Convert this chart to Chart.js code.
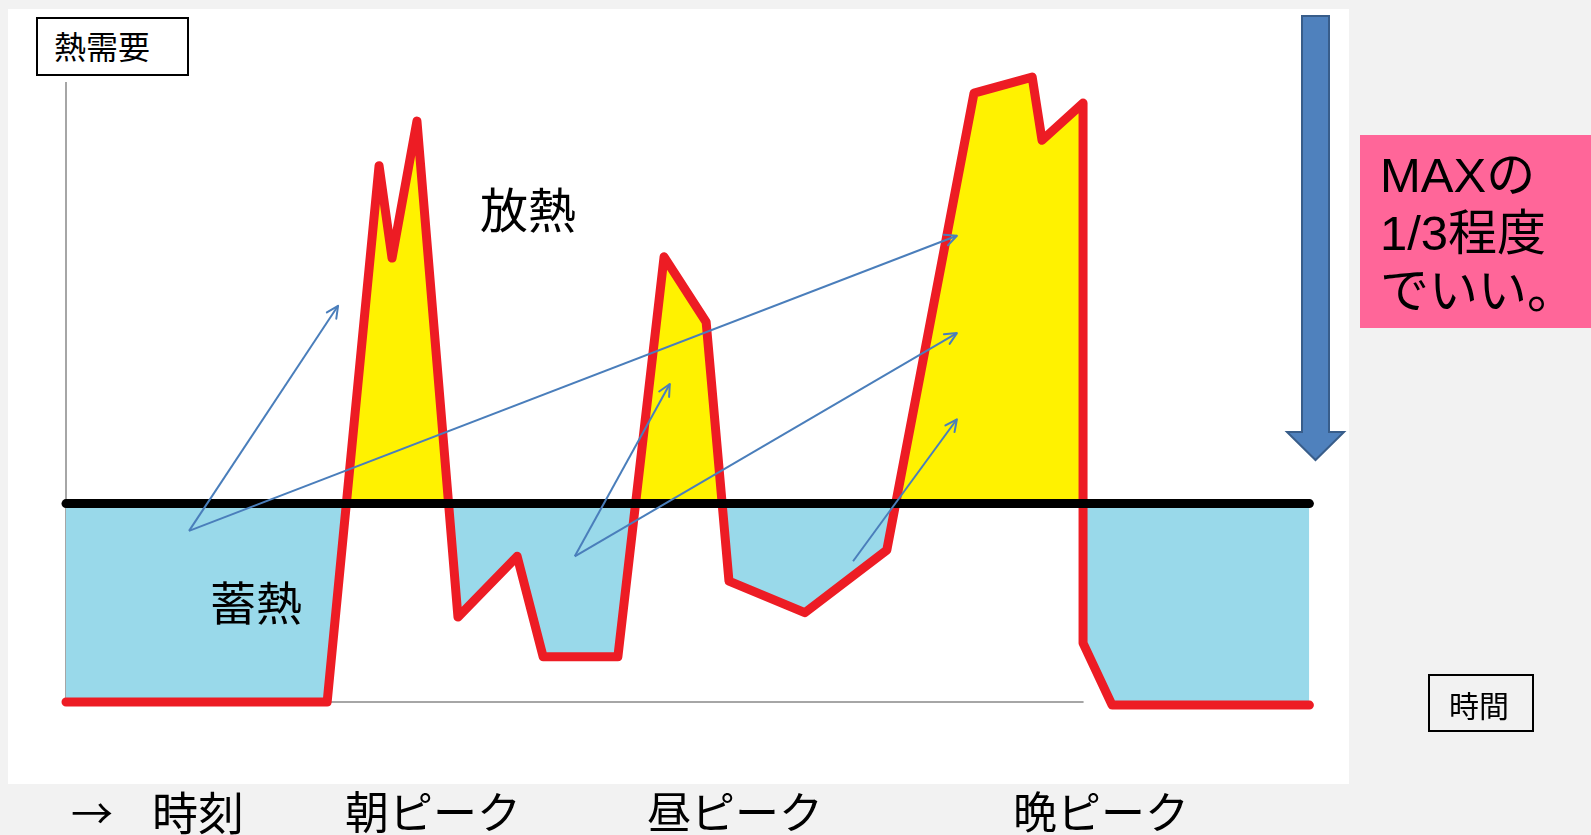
<!DOCTYPE html>
<html lang="ja">
<head>
<meta charset="utf-8">
<title>熱需要と蓄熱・放熱</title>
<script src="https://cdn.jsdelivr.net/npm/chart.js@4.4.0/dist/chart.umd.min.js"></script>
<style>
  html, body { margin: 0; padding: 0; }
  body {
    width: 1591px; height: 835px; position: relative; overflow: hidden;
    background: #f2f2f2;
    font-family: "Noto Sans CJK JP", "Noto Sans", sans-serif;
  }
  #sheet { position: absolute; left: 8px; top: 9px; width: 1341px; height: 775px; background: #fff; }
  #c { position: absolute; left: 0; top: 0; }
  .lbl { position: absolute; line-height: 1; white-space: nowrap; color: #000; }
  .box { position: absolute; box-sizing: border-box; border: 2px solid #000; }
  #demandBox { left: 36px; top: 17px; width: 153px; height: 59px; background: #fff; }
  #timeBox { left: 1428px; top: 674px; width: 106px; height: 58px; }
  #note {
    position: absolute; left: 1360px; top: 135px; width: 231px; height: 193px;
    box-sizing: border-box; padding: 11px 0 0 20px;
    background: #ff6699; color: #000;
    font-family: "Liberation Sans", Arial, "Noto Sans CJK JP", sans-serif;
    font-size: 49px; line-height: 58px;
  }
  #bigArrow { position: absolute; left: 0; top: 0; }
</style>
</head>
<body>
<div id="sheet"></div>
<canvas id="c" width="1591" height="835"></canvas>

<svg id="bigArrow" width="1591" height="835">
  <polygon points="1302,16 1329,16 1329,432 1344,432 1315.5,460 1287,432 1302,432"
           fill="#4f81bd" stroke="#385d8a" stroke-width="2" stroke-linejoin="miter"/>
</svg>

<div class="box" id="demandBox"></div>
<div class="lbl" style="left:54px; top:29px; font-size:32px;">熱需要</div>
<div class="lbl" style="left:480px; top:183px; font-size:48px;">放熱</div>
<div class="lbl" style="left:210px; top:577px; font-size:46px;">蓄熱</div>
<div class="box" id="timeBox"></div>
<div class="lbl" style="left:1449px; top:689px; font-size:30px;">時間</div>
<div id="note">MAXの<br>1/3程度<br>でいい。</div>

<div class="lbl" style="left:71px; top:790px; font-size:42px;">→</div>
<div class="lbl" style="left:152px; top:787px; font-size:46px;">時刻</div>
<div class="lbl" style="left:345px; top:788px; font-size:44px;">朝ピーク</div>
<div class="lbl" style="left:647px; top:788px; font-size:44px;">昼ピーク</div>
<div class="lbl" style="left:1013px; top:788px; font-size:44px;">晩ピーク</div>

<script>
// Daily heat-demand profile (hour of day, demand in % of the daily maximum scale)
const hours      = [0, 5.03, 6.03, 6.28, 6.76, 7.55, 8.69, 9.19, 10.63, 11.52, 12.33, 12.77, 14.23, 15.81, 17.49, 18.61, 18.80, 19.59, 19.59, 20.15, 23.95];
const heatDemand = [0, 0, 86.5, 71.6, 93.7, 13.7, 23.5, 7.3, 7.3, 71.8, 61.3, 19.5, 14.4, 24.5, 98.2, 100.8, 90.6, 96.6, 9.5, -0.5, -0.5];

// Heat-source output level: surplus below it is stored, shortfall above it is released
const sourceLevel = 32;

// Stored heat shifted to the peaks: start point -> end point
const shiftFromHour  = [2.37, 2.37, 9.80, 9.80, 15.16];
const shiftFromValue = [27.6, 27.6, 23.5, 23.5, 22.7];
const shiftToHour    = [5.24, 17.16, 11.63, 17.16, 17.16];
const shiftToValue   = [63.9, 75.2, 51.3, 59.5, 45.6];

// Extent of the drawn axes
const axisTopValue = 100;
const axisEndHour  = 19.6;

const demandPoints = hours.map((h, i) => ({ x: h, y: heatDemand[i] }));

const shiftSets = shiftFromHour.map((h, i) => ({
  label: '移動' + (i + 1),
  arrow: true,
  data: [{ x: h, y: shiftFromValue[i] }, { x: shiftToHour[i], y: shiftToValue[i] }],
  borderColor: '#4a7ebb',
  borderWidth: 2,
  pointRadius: 0,
  fill: false,
  clip: false,
  order: 0
}));

// Plain grey axes drawn underneath everything
const axesLines = {
  id: 'axesLines',
  beforeDatasetsDraw(chart) {
    const { ctx, scales: { x, y } } = chart;
    const x0 = x.getPixelForValue(0), y0 = y.getPixelForValue(0);
    ctx.save();
    ctx.strokeStyle = '#a6a6a6';
    ctx.lineWidth = 2;
    ctx.beginPath();
    ctx.moveTo(x0, y.getPixelForValue(axisTopValue));
    ctx.lineTo(x0, y0);
    ctx.lineTo(x.getPixelForValue(axisEndHour), y0);
    ctx.stroke();
    ctx.restore();
  }
};

// Open arrow heads at the end of each shift line
const arrowHeads = {
  id: 'arrowHeads',
  afterDatasetsDraw(chart) {
    const ctx = chart.ctx;
    chart.data.datasets.forEach((ds, i) => {
      if (!ds.arrow) return;
      const pts = chart.getDatasetMeta(i).data;
      const a = pts[0], b = pts[1];
      const ang = Math.atan2(b.y - a.y, b.x - a.x);
      const len = 13, spread = Math.PI / 7;
      ctx.save();
      ctx.strokeStyle = ds.borderColor;
      ctx.lineWidth = ds.borderWidth;
      ctx.lineCap = 'round';
      ctx.lineJoin = 'round';
      ctx.beginPath();
      ctx.moveTo(b.x - len * Math.cos(ang - spread), b.y - len * Math.sin(ang - spread));
      ctx.lineTo(b.x, b.y);
      ctx.lineTo(b.x - len * Math.cos(ang + spread), b.y - len * Math.sin(ang + spread));
      ctx.stroke();
      ctx.restore();
    });
  }
};

new Chart(document.getElementById('c'), {
  type: 'line',
  data: {
    datasets: [
      ...shiftSets,
      {
        label: '熱源出力',
        data: [{ x: 0, y: sourceLevel }, { x: 23.95, y: sourceLevel }],
        borderColor: '#000',
        borderWidth: 9,
        borderCapStyle: 'round',
        pointRadius: 0,
        fill: false,
        clip: false,
        order: 1
      },
      {
        label: '熱需要',
        data: demandPoints,
        borderColor: '#ed1c24',
        borderWidth: 9,
        borderCapStyle: 'round',
        borderJoinStyle: 'round',
        pointRadius: 0,
        tension: 0,
        clip: false,
        fill: { target: { value: sourceLevel }, above: '#fff200', below: '#99d9ea' },
        order: 2
      }
    ]
  },
  options: {
    responsive: false,
    animation: false,
    devicePixelRatio: 1,
    layout: { padding: { left: 66, right: 279, top: 20, bottom: 120.6 } },
    scales: {
      x: { type: 'linear', min: 0, max: 24, display: false },
      y: { type: 'linear', min: -2, max: 110, display: false }
    },
    plugins: { legend: { display: false }, tooltip: { enabled: false } },
    events: []
  },
  plugins: [axesLines, arrowHeads]
});
</script>
</body>
</html>
